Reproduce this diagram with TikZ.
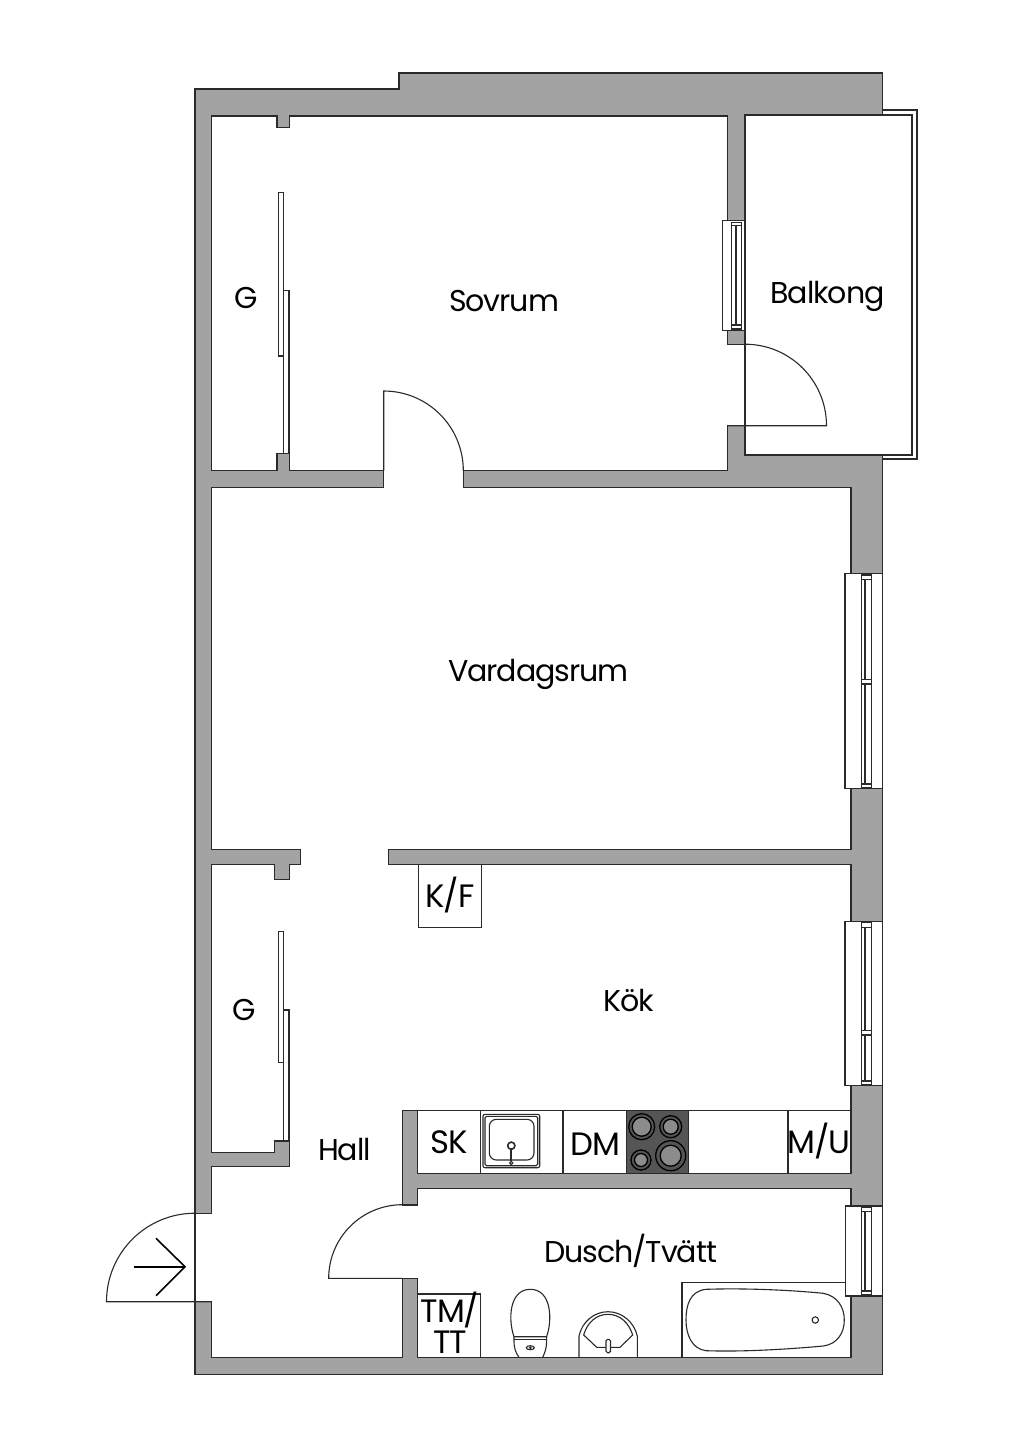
\documentclass[tikz,border=0pt]{standalone}
\usepackage{fontspec}
\setmainfont{Poppins}[LetterSpace=-3.5]
\definecolor{wallgray}{HTML}{A3A3A3}
\definecolor{hobgray}{HTML}{555555}
\definecolor{inkline}{HTML}{2A2A2A}
\tikzset{
  wall/.style={fill=wallgray,draw=inkline,line width=0.013cm,line join=miter},
  roomfloor/.style={fill=white,draw=inkline,line width=0.013cm,line join=miter},
  thinline/.style={draw=inkline,line width=0.011cm},
  whitebox/.style={fill=white,draw=inkline,line width=0.011cm},
  roomlabel/.style={anchor=base,inner sep=0pt,text=black,font=\fontsize{8.55pt}{8.6pt}\selectfont},
  fixturelabel/.style={roomlabel,font=\fontsize{9.2pt}{8.6pt}\selectfont},
}
\begin{document}
\begin{tikzpicture}[x=0.01cm,y=-0.01cm]
    \useasboundingbox (0,0) rectangle (1024,1448);

    % Drawing outer walls
    \draw [wall] (195,89) -- (399,89) -- (399,73) -- (882.7,73) -- (882.7,115) -- (745,115) -- (745,455) -- (882.7,455) -- (882.7,1374.3) -- (195,1374.3) -- cycle;%

    % Drawing balcony railing and floor
    \draw [whitebox] (882.7,110) -- (917,110) -- (917,459) -- (882.7,459);%
    \draw [whitebox] (745,115) rectangle (912,455);%

    % Drawing all connected rooms as one floor
    \draw [roomfloor] (211.7,116) -- (277,116) -- (277,127.7) -- (289.7,127.7) -- (289.7,116) -- (727.3,116)
        -- (727.3,344.3) -- (745,344.3) -- (745,425.7) -- (727.3,425.7) -- (727.3,470.7) -- (463.3,470.7) -- (463.3,487.3)
        -- (851,487.3) -- (851,849.3) -- (388.3,849.3) -- (388.3,864.7) -- (851,864.7) -- (851,1110.7) -- (402.3,1110.7)
        -- (402.3,1205) -- (417.3,1205) -- (417.3,1188.3) -- (851,1188.3) -- (851,1357.3) -- (417.3,1357.3) -- (417.3,1278.3)
        -- (402.3,1278.3) -- (402.3,1357.3) -- (211.7,1357.3) -- (211.7,1301.7) -- (195,1301.7) -- (195,1213.3) -- (211.7,1213.3)
        -- (211.7,1166.7) -- (289.7,1166.7) -- (289.7,1141) -- (274.3,1141) -- (274.3,1152.3) -- (211.7,1152.3) -- (211.7,864.7)
        -- (274.3,864.7) -- (274.3,879.3) -- (289.7,879.3) -- (289.7,864.7) -- (300.7,864.7) -- (300.7,849.3) -- (211.7,849.3)
        -- (211.7,487.3) -- (383.7,487.3) -- (383.7,470.7) -- (289.7,470.7) -- (289.7,453.7) -- (277,453.7) -- (277,470.7)
        -- (211.7,470.7) -- cycle;%

    % Drawing kitchen counter
    \draw [roomfloor] (417.3,1110.7) rectangle (851,1173.3);%
    \draw [thinline] (480.3,1110.7) -- (480.3,1173.3);%
    \draw [thinline] (563,1110.7) -- (563,1173.3);%
    \draw [thinline] (788,1110.7) -- (788,1173.3);%

    % Drawing sink in counter
    \draw [thinline,rounded corners=0.02cm] (483,1114.3) rectangle (539.7,1167.7);%
    \draw [thinline,rounded corners=0.015cm] (485,1116.3) rectangle (537.7,1165.7);%
    \draw [thinline,rounded corners=0.07cm] (489.3,1119.3) rectangle (534,1160);%
    \draw [inkline,line width=0.016cm] (511.3,1145.7) circle (3.6);%
    \draw [inkline,line width=0.02cm] (511.3,1148) -- (511.3,1161);%
    \draw [thinline] (511.3,1163) circle (1.6);%

    % Drawing hob
    \draw [fill=hobgray,draw=inkline,line width=0.011cm] (626.7,1110.7) rectangle (688.7,1173.3);%
    \draw [fill=hobgray,draw=black,line width=0.013cm] (641.7,1126.7) circle (13);%
    \draw [fill=wallgray!70!hobgray,draw=black,line width=0.013cm] (641.7,1126.7) circle (9.5);%
    \draw [fill=hobgray,draw=black,line width=0.013cm] (670.7,1126.7) circle (11);%
    \draw [fill=wallgray!70!hobgray,draw=black,line width=0.013cm] (670.7,1126.7) circle (7.5);%
    \draw [fill=hobgray,draw=black,line width=0.013cm] (641,1160) circle (10);%
    \draw [fill=wallgray!70!hobgray,draw=black,line width=0.013cm] (641,1160) circle (6.5);%
    \draw [fill=hobgray,draw=black,line width=0.013cm] (670.7,1155.7) circle (15);%
    \draw [fill=wallgray!70!hobgray,draw=black,line width=0.013cm] (670.7,1155.7) circle (10.5);%

    % Drawing fridge box and washer box
    \draw [thinline] (418.3,864.7) -- (418.3,927.3) -- (481.3,927.3) -- (481.3,864.7);%
    \draw [thinline] (417.3,1294) -- (480.3,1294) -- (480.3,1357.3);%

    % Drawing sliding doors of upper closet
    \draw [whitebox] (278.3,192.7) rectangle (283.7,356);%
    \draw [whitebox] (283.7,290.3) rectangle (289,453.7);%

    % Drawing sliding doors of lower closet
    \draw [whitebox] (278.3,931.3) rectangle (283.7,1062.7);%
    \draw [whitebox] (283.7,1010) rectangle (289,1141);%

    % Drawing door to bedroom
    \draw [thinline] (383.7,470.7) -- (383.7,391) arc (270:360:79.6);%

    % Drawing door to balcony
    \draw [thinline] (727.3,425.7) -- (826.5,425.7) arc (360:270:81.5);%

    % Drawing door to bathroom
    \draw [thinline] (402.3,1278.3) -- (328.7,1278.3) arc (180:270:73.6);%

    % Drawing entrance door and arrow
    \draw [thinline] (195,1213.3) -- (195,1301.7);%
    \draw [thinline] (211.7,1301.7) -- (106.5,1301.7) arc (180:270:88.5);%
    \draw [draw=black,line width=0.016cm] (134.3,1266.7) -- (185,1266.7);%
    \draw [draw=black,line width=0.016cm] (156,1238.3) -- (185,1266.7) -- (156,1295.7);%

    % Drawing window in bedroom wall
    \draw [whitebox] (722.3,220.7) rectangle (744.7,330.7);%
    \draw [whitebox] (731.7,222.5) rectangle (741.3,329);%
    \draw [thinline] (736,225.7) rectangle (741.3,325);%
    \draw [thinline] (731.7,225.7) -- (741.3,225.7);%
    \draw [thinline] (731.7,325) -- (741.3,325);%

    % Drawing window in living room
    \draw [whitebox] (845,573.3) rectangle (882.7,788.3);%
    \draw [whitebox] (861.7,575) rectangle (871.7,788);%
    \draw [thinline] (865,579.3) rectangle (871.7,679.3);%
    \draw [thinline] (865,684) rectangle (871.7,784);%
    \draw [thinline] (861.7,579.3) -- (871.7,579.3);%
    \draw [thinline] (861.7,679.3) -- (871.7,679.3);%
    \draw [thinline] (861.7,684) -- (871.7,684);%
    \draw [thinline] (861.7,784) -- (871.7,784);%

    % Drawing window in kitchen
    \draw [whitebox] (845,921.7) rectangle (882.7,1085.7);%
    \draw [whitebox] (861.7,922.7) rectangle (871.7,1085);%
    \draw [thinline] (865,927.3) rectangle (871.7,1030.7);%
    \draw [thinline] (865,1035) rectangle (871.7,1081);%
    \draw [thinline] (861.7,927.3) -- (871.7,927.3);%
    \draw [thinline] (861.7,1030.7) -- (871.7,1030.7);%
    \draw [thinline] (861.7,1035) -- (871.7,1035);%
    \draw [thinline] (861.7,1081) -- (871.7,1081);%

    % Drawing window in bathroom
    \draw [whitebox] (845.7,1206) rectangle (882.3,1296);%
    \draw [whitebox] (861.7,1207) rectangle (871.7,1295);%
    \draw [thinline] (865,1211.7) rectangle (871.7,1291);%
    \draw [thinline] (861.7,1211.7) -- (871.7,1211.7);%
    \draw [thinline] (861.7,1291) -- (871.7,1291);%

    % Drawing bathtub
    \draw [thinline] (682,1357.3) -- (682,1282.7) -- (845.7,1282.7);%
    \draw [thinline] (706,1289.3) .. controls (690,1291) and (686,1305) .. (686,1320)
        .. controls (686,1335) and (692,1349) .. (706,1350.7)
        .. controls (745,1352) and (790,1349) .. (823.3,1346)
        .. controls (838,1344) and (844.3,1332) .. (844.3,1320)
        .. controls (844.3,1308) and (838,1296) .. (823.3,1293.3)
        .. controls (790,1290) and (745,1288) .. (706,1289.3) -- cycle;%
    \draw [thinline] (815.3,1320) circle (3.2);%

    % Drawing toilet
    \draw [thinline] (514,1336.7) .. controls (508,1320) and (509,1289.3) .. (530.3,1289.3)
        .. controls (551.6,1289.3) and (552.6,1320) .. (546.6,1336.7) -- cycle;%
    \draw [thinline] (514,1336.7) -- (514,1341) .. controls (514,1349) and (516,1353) .. (519,1357.3);%
    \draw [thinline] (546.6,1336.7) -- (546.6,1341) .. controls (546.6,1349) and (544.6,1353) .. (542.7,1357.3);%
    \draw [thinline] (514,1339.3) -- (546.6,1339.3);%
    \draw [thinline] (530.3,1347.7) ellipse (4 and 2);%
    \draw [fill=inkline,draw=none] (530.3,1347.7) circle (1.5);%

    % Drawing wash basin
    \draw [thinline] (579,1357.3) -- (579,1336) .. controls (582,1322) and (594,1311.7) .. (608,1311.7)
        .. controls (622,1311.7) and (634,1322) .. (637.3,1336) -- (637.3,1357.3);%
    \draw [thinline] (583.7,1335) .. controls (587,1323) and (596,1314.3) .. (608,1314.3)
        .. controls (620,1314.3) and (629,1323) .. (632.7,1335)
        -- (620,1347.3) -- (596.7,1347.3) -- cycle;%
    \draw [whitebox,rounded corners=0.015cm] (606,1339.3) rectangle (610.5,1352.7);%

    % Marking rooms by name
    \node [roomlabel] (sovrum) at (504,311) {Sovrum};%
    \node [roomlabel] (closetupper) at (246,308) {G};%
    \node [roomlabel] (balkong) at (827.5,303) {Balkong};%
    \node [roomlabel] (vardagsrum) at (538.5,681) {Vardagsrum};%
    \node [fixturelabel] (kf) at (450,907) {K/F};%
    \node [roomlabel] (kok) at (629,1011) {Kök};%
    \node [roomlabel] (closetlower) at (244,1020) {G};%
    \node [roomlabel] (hall) at (344.5,1160) {Hall};%
    \node [fixturelabel] (sk) at (449,1153) {SK};%
    \node [fixturelabel] (dm) at (595.5,1155) {DM};%
    \node [fixturelabel] (mu) at (819,1153) {M/U};%
    \node [roomlabel] (dusch) at (630.5,1262) {Dusch/Tvätt};%
    \node [fixturelabel,align=center] (tmtt) at (450,1353) {TM/\\TT};%
\end{tikzpicture}
\end{document}
